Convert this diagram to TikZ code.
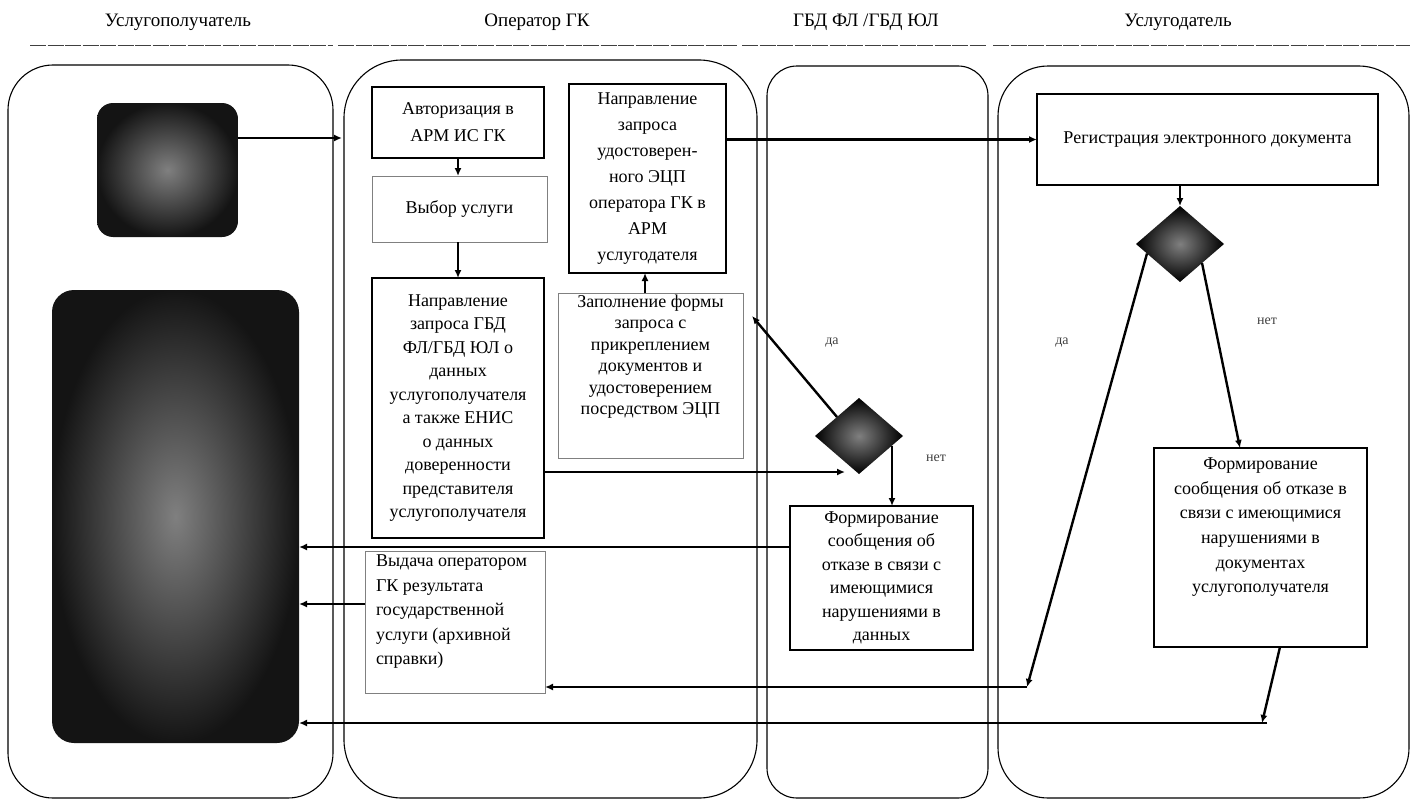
\documentclass[tikz,border=0pt]{standalone}
\usepackage{fontspec}
\setmainfont{Liberation Serif}
\usetikzlibrary{arrows.meta,shapes.geometric,calc}
\newcommand\boxfont[1]{\fontsize{18}{#1}\selectfont}
\tikzset{
  lane/.style={draw=black, line width=1.1pt},
  hline/.style={draw=black!75, line width=1pt, dash pattern=on 16pt off 1.5pt},
  hdr/.style={font=\fontsize{19}{22}\selectfont, anchor=center},
  bx/.style={draw=black, line width=1.3pt, inner sep=0pt, outer sep=0pt},
  gx/.style={draw=black!50, line width=0.9pt, inner sep=0pt, outer sep=0pt},
  darkbox/.style={shade, shading=radial, inner sep=0pt, outer sep=0pt, inner color=black!50, outer color=black!92},
  dia/.style={diamond, minimum width=88pt, minimum height=76pt, inner sep=0pt, outer sep=0pt, shade, shading=radial, inner color=black!50, outer color=black},
  conn/.style={draw=black, line width=2.4pt, -{Latex[length=8pt,width=7pt]}},
  lbl/.style={font=\fontsize{14}{16}\selectfont, text=black!75},
}
\begin{document}
\begin{tikzpicture}[x=1pt,y=-1pt]
\useasboundingbox (0,0) rectangle (1416,800);
\fill[white] (0,0) rectangle (1416,800);

% headers
\node[hdr] (h1) at (178,22) {Услугополучатель};
\node[hdr] (h2) at (537,22) {Оператор ГК};
\node[hdr] (h3) at (866,22) {ГБД ФЛ /ГБД ЮЛ};
\node[hdr] (h4) at (1178,22) {Услугодатель};
\draw[hline] (30,46) -- (333,46);
\draw[hline] (338,46) -- (737,46);
\draw[hline] (742,46) -- (987,46);
\draw[hline] (993,46) -- (1410,46);

% lanes
\draw[lane, rounded corners=45pt] (8,65) rectangle (333,798);
\draw[lane, rounded corners=58pt] (344,60) rectangle (757,798);
\draw[lane, rounded corners=30pt] (767,66) rectangle (988,798);
\draw[lane, rounded corners=50pt] (998,66) rectangle (1409,798);

% lane 1
\node[darkbox, rounded corners=16pt, minimum width=141pt, minimum height=134pt] (sb) at (167.5,170) {};
\node[darkbox, rounded corners=22pt, minimum width=247pt, minimum height=453pt] (bb) at (175.5,516.5) {};

% lane 2
\node[bx] (auth) at (458,122.5) {\parbox[c][71pt][c]{172pt}{\boxfont{27}\centering Авторизация в\\АРМ ИС ГК}};
\node[gx] (vyb) at (459.5,209) {\parbox[c][66pt][c]{175pt}{\boxfont{24}\centering Выбор услуги}};
\node[bx] (gbd) at (458,408) {\parbox[c][260pt][c]{172pt}{\boxfont{23.5}\centering Направление\\запроса ГБД\\ФЛ/ГБД ЮЛ о\\данных\\услугополучателя\\а также ЕНИС\\о данных\\доверенности\\представителя\\услугополучателя}};
\node[gx] (vyd) at (455,622) {\parbox[c][142pt][t]{180pt}{\boxfont{24.5}\raggedright\leftskip=11pt\vspace*{4pt}Выдача оператором\\ГК результата\\государственной\\услуги (архивной\\справки)}};
\node[bx] (napr) at (647.5,178.5) {\parbox[c][189pt][c]{157pt}{\boxfont{26}\centering Направление\\запроса\\удостоверен-\\ного ЭЦП\\оператора ГК в\\АРМ\\услугодателя}};
\node[gx] (zap) at (650.5,375.5) {\parbox[c][165pt][t]{185pt}{\boxfont{21.5}\centering\vspace*{2pt}Заполнение формы\\запроса с\\прикреплением\\документов и\\удостоверением\\посредством ЭЦП}};

% lane 3
\node[dia] (d1) at (859,436) {};
\node[bx] (f1) at (881.5,578) {\parbox[c][144pt][c]{183pt}{\boxfont{23.5}\centering Формирование\\сообщения об\\отказе в связи с\\имеющимися\\нарушениями в\\данных}};

% lane 4
\node[bx] (reg) at (1207.5,139.5) {\parbox[c][91pt][c]{341pt}{\boxfont{24}\centering Регистрация электронного документа}};
\node[dia] (d2) at (1180,244) {};
\node[bx] (f2) at (1260.5,547.5) {\parbox[c][199pt][t]{213pt}{\boxfont{24.6}\centering\vspace*{10pt}Формирование\\сообщения об отказе в\\связи с имеющимися\\нарушениями в\\документах\\услугополучателя}};

% free ends
\coordinate (c1) at (342,138);
\coordinate (c2) at (845,472);
\coordinate (c3) at (752,316);
\coordinate (c6) at (1027,687);
\coordinate (c7) at (1240,448);
\coordinate (c8) at (1262,723);
\coordinate (y547) at (299,547);
\coordinate (y604) at (299,604);
\coordinate (d1out) at ($(d1.east)!0.25!(d1.south)$);
\coordinate (d2da) at ($(d2.west)!0.25!(d2.south)$);
\coordinate (nap) at (645,0);

% connectors
\draw[conn] (sb.east |- c1) -- (c1);
\draw[conn] (auth.south) -- (auth.south |- vyb.north);
\draw[conn] (auth.south |- vyb.south) -- (gbd.north);
\draw[conn] (zap.north -| nap) -- (napr.south -| nap);
\draw[conn] (napr.east |- reg.west) -- (reg.west);
\draw[conn] (gbd.east |- c2) -- (c2);
\draw[conn] (d1.north west) -- (c3);
\draw[conn] (d1out) -- (d1out |- f1.north);
\draw[conn] (f1.west |- y547) -- (y547);
\draw[conn] (vyd.west |- y604) -- (y604);
\draw[conn] (reg.south -| d2.north) -- (d2.north);
\draw[conn] (d2da) -- (c6);
\draw[conn] (c6) -- (vyd.east |- c6);
\draw[conn] (d2.south east) -- (c7);
\draw[conn] ([xshift=19.5pt]f2.south) -- (c8);
\draw[conn] ([xshift=5pt]c8) -- (bb.east |- c8);

% labels
\node[lbl] (l1) at (832,343) {да};
\node[lbl] (l2) at (936,458) {нет};
\node[lbl] (l3) at (1062,343) {да};
\node[lbl] (l4) at (1267,321) {нет};
\end{tikzpicture}
\end{document}
